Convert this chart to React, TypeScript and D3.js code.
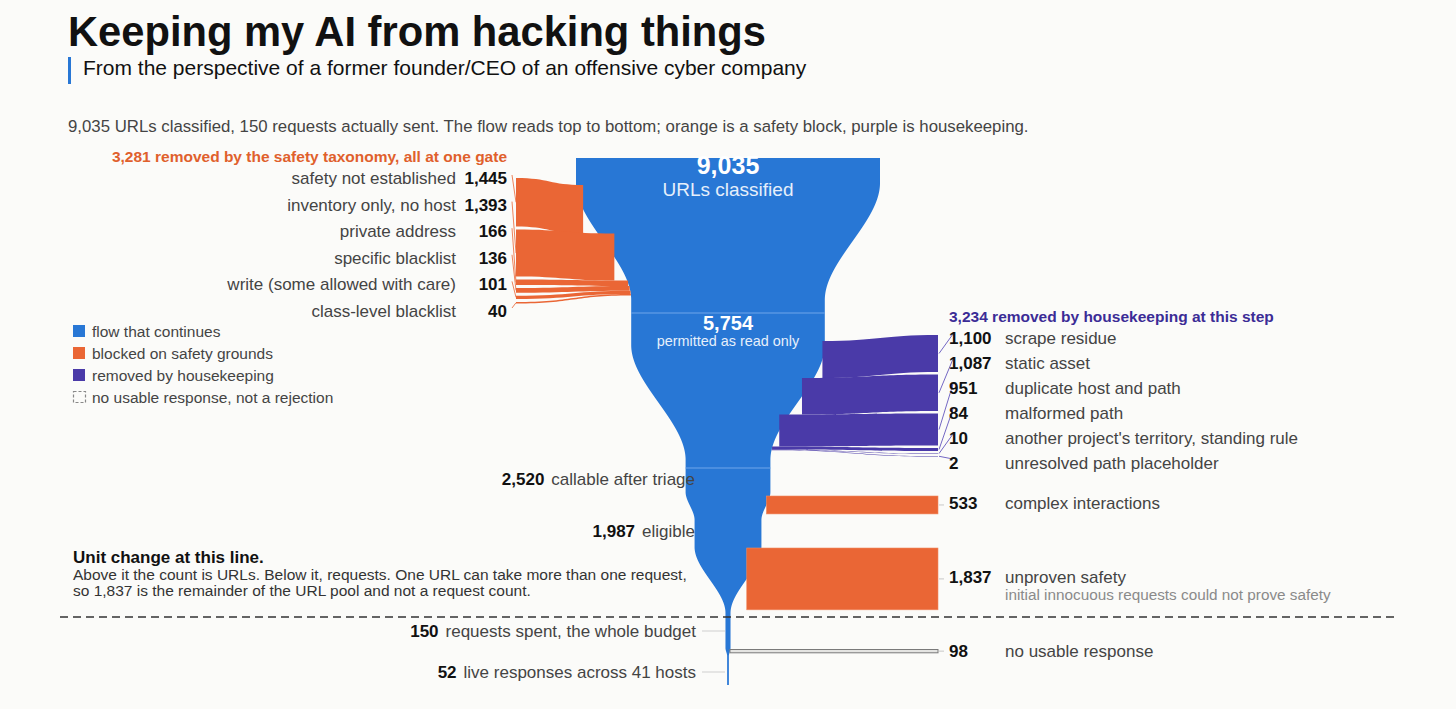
import React from "react";
import * as d3 from "d3";

// ---------------- data ----------------
const stageLabels = ["URLs classified", "permitted as read only", "callable after triage", "eligible", "requests spent, the whole budget", "live responses across 41 hosts"];
const stageValues = [9035, 5754, 2520, 1987, 150, 52];

const safetyLabels = ["safety not established", "inventory only, no host", "private address", "specific blacklist", "write (some allowed with care)", "class-level blacklist"];
const safetyValues = [1445, 1393, 166, 136, 101, 40];
const safetyTitle = "3,281 removed by the safety taxonomy, all at one gate";

const houseLabels = ["scrape residue", "static asset", "duplicate host and path", "malformed path", "another project's territory, standing rule", "unresolved path placeholder"];
const houseValues = [1100, 1087, 951, 84, 10, 2];
const houseTitle = "3,234 removed by housekeeping at this step";

const laterLabels = ["complex interactions", "unproven safety", "no usable response"];
const laterValues = [533, 1837, 98];
const unprovenNote = "initial innocuous requests could not prove safety";

const legendLabels = ["flow that continues", "blocked on safety grounds", "removed by housekeeping", "no usable response, not a rejection"];

// ---------------- style ----------------
const W = 1456, H = 709;
const BG = "#fbfbf9";
const BLUE = "#2877d5";
const ORANGE = "#ea6635";
const PURPLE = "#4a3aa8";
const FONT = "'Liberation Sans', Arial, Helvetica, sans-serif";
const cx = 728;
const LBL = 17;

const fmt = d3.format(",");
const wScale = d3.scaleLinear().domain([0, 9035]).range([0, 304]);

// vertical layout of the funnel profile (y positions where width changes)
const profileY = [158, 183, 300, 345, 460, 492, 520, 547, 613, 648, 656, 685];
const profileStage = [0, 0, 1, 1, 2, 2, 3, 3, 4, 4, 5, 5];

const smooth = (t: number) => t * t * (3 - 2 * t);
function widthAt(y: number): number {
  for (let i = 0; i < profileY.length - 1; i++) {
    const y0 = profileY[i], y1 = profileY[i + 1];
    if (y >= y0 && y <= y1) {
      const w0 = wScale(stageValues[profileStage[i]]);
      const w1 = wScale(stageValues[profileStage[i + 1]]);
      const t = y1 === y0 ? 0 : (y - y0) / (y1 - y0);
      return w0 + (w1 - w0) * smooth(t);
    }
  }
  return wScale(stageValues[stageValues.length - 1]);
}
const leftAt = (y: number) => cx - widthAt(y) / 2;
const rightAt = (y: number) => cx + widthAt(y) / 2;

function ribbon(xa: number, ya0: number, ya1: number, xb: number, yb0: number, yb1: number) {
  const xm = (xa + xb) / 2;
  const p = d3.path();
  p.moveTo(xa, ya0);
  p.bezierCurveTo(xm, ya0, xm, yb0, xb, yb0);
  p.lineTo(xb, yb1);
  p.bezierCurveTo(xm, yb1, xm, ya1, xa, ya1);
  p.closePath();
  return p.toString();
}

function stack(values: number[], top: number, gap: number) {
  let y = top;
  return values.map((v) => {
    const h = wScale(v);
    const r = { y0: y, y1: y + h, mid: y + h / 2 };
    y += h + gap;
    return r;
  });
}

export default function App() {
  // funnel outline
  const samples = d3.range(profileY[0], profileY[profileY.length - 1] + 0.01, 0.5);
  const area = d3
    .area<number>()
    .y((d) => d)
    .x0((d) => leftAt(d))
    .x1((d) => rightAt(d));
  const funnelPath = area(samples) || "";

  // safety ribbons (left)
  const safetyOuterX = 516;
  const safetyOuter = stack(safetyValues, 178, 3);
  const safetyInner = stack(safetyValues, 185, 0);
  const safetyLabelY = safetyValues.map((_, i) => 178 + i * 26.6);

  // housekeeping ribbons (right)
  const houseOuterX = 938;
  const houseOuter = stack(houseValues, 335, 2.5);
  const houseInner = stack(houseValues, 341, 0);
  const houseLabelY = houseValues.map((_, i) => 338 + i * 25);

  // later side bars
  const barTops = [496, 548, 649.5];
  const bars = laterValues.map((v, i) => {
    const h = wScale(v);
    const mid = barTops[i] + h / 2;
    return { x0: rightAt(mid), y0: barTops[i], h, mid };
  });
  const laterLabelY = [503, 576.5, 651];

  const stageLineY = [313, 468];
  const legendColors = [BLUE, ORANGE, PURPLE, "none"];

  return (
    <div style={{ position: "absolute", left: 0, top: 0, width: W, height: H, background: BG }}>
      <svg width={W} height={H} style={{ display: "block", fontFamily: FONT }}>
        <rect x={0} y={0} width={W} height={H} fill={BG} />

        {/* title block */}
        <text x={68} y={46} fontSize={41.7} fontWeight="bold" fill="#111">Keeping my AI from hacking things</text>
        <rect x={68} y={57} width={3} height={27} fill={BLUE} />
        <text x={83} y={75} fontSize={21} fill="#111">From the perspective of a former founder/CEO of an offensive cyber company</text>
        <text x={68} y={132} fontSize={16.8} fill="#444">
          9,035 URLs classified, 150 requests actually sent. The flow reads top to bottom; orange is a safety block, purple is housekeeping.
        </text>

        {/* funnel */}
        <path d={funnelPath} fill={BLUE} />
        {stageLineY.map((y, i) => (
          <line key={i} x1={leftAt(y)} x2={rightAt(y)} y1={y} y2={y} stroke="#6ea6ea" strokeWidth={1} />
        ))}

        {/* safety ribbons */}
        {safetyValues.map((v, i) => {
          const o = safetyOuter[i], n = safetyInner[i];
          const xb = leftAt(n.mid);
          return <path key={i} d={ribbon(safetyOuterX, o.y0, o.y1, xb, n.y0, n.y1)} fill={ORANGE} />;
        })}
        {safetyValues.map((v, i) => (
          <line key={"sl" + i} x1={512} y1={safetyLabelY[i] - 3} x2={safetyOuterX} y2={safetyOuter[i].mid} stroke={ORANGE} strokeWidth={1} opacity={0.8} />
        ))}

        {/* housekeeping ribbons */}
        {houseValues.map((v, i) => {
          const o = houseOuter[i], n = houseInner[i];
          const xa = rightAt(n.mid);
          return <path key={i} d={ribbon(xa, n.y0, Math.max(n.y1, n.y0 + 0.6), houseOuterX, o.y0, Math.max(o.y1, o.y0 + 0.6))} fill={PURPLE} />;
        })}
        {houseValues.map((v, i) => (
          <line key={"hl" + i} x1={houseOuterX + 1} y1={houseOuter[i].mid} x2={953} y2={houseLabelY[i] - 4} stroke="#7468c4" strokeWidth={1} />
        ))}

        {/* later bars */}
        {bars.slice(0, 2).map((b, i) => (
          <rect key={i} x={b.x0} y={b.y0} width={938 - b.x0} height={b.h} fill={ORANGE} stroke="#f08a60" strokeWidth={0.6} />
        ))}
        <rect x={bars[2].x0} y={bars[2].y0} width={938 - bars[2].x0} height={bars[2].h} fill="#e4e4e2" stroke="#7a7a7a" strokeWidth={1} />
        {bars.map((b, i) => (
          <line key={"bl" + i} x1={939} x2={944} y1={b.mid} y2={b.mid} stroke="#c8c8c8" strokeWidth={1} />
        ))}

        {/* center labels */}
        <text x={cx} y={174} textAnchor="middle" fontSize={25} fontWeight="bold" fill="#fff">{fmt(stageValues[0])}</text>
        <text x={cx} y={196} textAnchor="middle" fontSize={19} fill="#e6effb">{stageLabels[0]}</text>
        <text x={cx} y={330} textAnchor="middle" fontSize={20} fontWeight="bold" fill="#fff">{fmt(stageValues[1])}</text>
        <text x={cx} y={346} textAnchor="middle" fontSize={14.4} fill="#e6effb">{stageLabels[1]}</text>

        {/* left stage labels */}
        {[2, 3].map((s, i) => (
          <text key={s} x={695} y={[485, 537][i]} textAnchor="end" fontSize={LBL} fill="#444">
            <tspan fontWeight="bold" fill="#111">{fmt(stageValues[s])}</tspan>
            <tspan dx={7}>{stageLabels[s]}</tspan>
          </text>
        ))}
        {[4, 5].map((s, i) => {
          const y = [631, 672][i];
          return (
            <g key={s}>
              <line x1={702} x2={cx - 3} y1={y} y2={y} stroke="#cfcfcf" strokeWidth={1} />
              <text x={696} y={y + 6} textAnchor="end" fontSize={LBL} fill="#444">
                <tspan fontWeight="bold" fill="#111">{fmt(stageValues[s])}</tspan>
                <tspan dx={7}>{stageLabels[s]}</tspan>
              </text>
            </g>
          );
        })}

        {/* safety labels */}
        <text x={507} y={162} textAnchor="end" fontSize={15.5} fontWeight="bold" fill="#e0602c">{safetyTitle}</text>
        {safetyLabels.map((l, i) => (
          <g key={i}>
            <text x={456} y={safetyLabelY[i] + 6} textAnchor="end" fontSize={LBL} fill="#444">{l}</text>
            <text x={507} y={safetyLabelY[i] + 6} textAnchor="end" fontSize={LBL} fontWeight="bold" fill="#111">{fmt(safetyValues[i])}</text>
          </g>
        ))}

        {/* housekeeping labels */}
        <text x={949} y={322} fontSize={15.5} fontWeight="bold" fill="#3b2c96">{houseTitle}</text>
        {houseLabels.map((l, i) => (
          <g key={i}>
            <text x={949} y={houseLabelY[i] + 6} fontSize={LBL} fontWeight="bold" fill="#111">{fmt(houseValues[i])}</text>
            <text x={1005} y={houseLabelY[i] + 6} fontSize={LBL} fill="#444">{l}</text>
          </g>
        ))}

        {/* later labels */}
        {laterLabels.map((l, i) => (
          <g key={i}>
            <text x={949} y={laterLabelY[i] + 6} fontSize={LBL} fontWeight="bold" fill="#111">{fmt(laterValues[i])}</text>
            <text x={1005} y={laterLabelY[i] + 6} fontSize={LBL} fill="#444">{l}</text>
          </g>
        ))}
        <text x={1005} y={600} fontSize={15.3} fill="#8a8a8a">{unprovenNote}</text>

        {/* legend */}
        {legendLabels.map((l, i) => (
          <g key={i}>
            {i < 3 ? (
              <rect x={73} y={325 + i * 22} width={12} height={12} fill={legendColors[i]} />
            ) : (
              <rect x={73.5} y={325.5 + i * 22} width={12} height={11} fill="none" stroke="#888" strokeWidth={1.2} strokeDasharray="3,2" />
            )}
            <text x={92} y={336.5 + i * 22} fontSize={15.5} fill="#444">{l}</text>
          </g>
        ))}

        {/* unit change note */}
        <text x={73} y={563} fontSize={17} fontWeight="bold" fill="#111">Unit change at this line.</text>
        <text x={73} y={580} fontSize={15.5} fill="#333">Above it the count is URLs. Below it, requests. One URL can take more than one request,</text>
        <text x={73} y={596} fontSize={15.5} fill="#333">so 1,837 is the remainder of the URL pool and not a request count.</text>
        <line x1={60} x2={1398} y1={617} y2={617} stroke="#333" strokeWidth={1.5} strokeDasharray="8,5" />
      </svg>
    </div>
  );
}
